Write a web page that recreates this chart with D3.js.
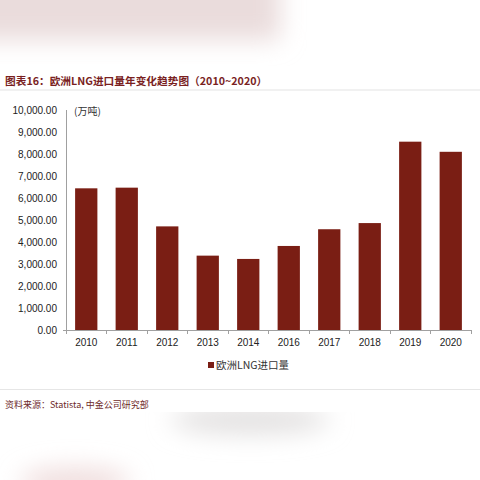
<!DOCTYPE html>
<html>
<head>
<meta charset="utf-8">
<script src="https://cdn.jsdelivr.net/npm/d3@7"></script>
<style>
  html, body { margin: 0; padding: 0; background: #fff; }
  svg { display: block; }
</style>
</head>
<body>
<svg id="chart" width="480" height="480"></svg>
<script>
// European LNG imports by year (unit: 10k tonnes)
const years = ["2010", "2011", "2012", "2013", "2014", "2016", "2017", "2018", "2019", "2020"];
const imports = [6440, 6470, 4710, 3380, 3230, 3820, 4580, 4860, 8560, 8100];
const yTicks = [0, 1000, 2000, 3000, 4000, 5000, 6000, 7000, 8000, 9000, 10000];

const titleText = "图表16：欧洲LNG进口量年变化趋势图（2010~2020）";
const unitText = "(万吨)";
const legendText = "欧洲LNG进口量";
const sourceText = "资料来源：Statista, 中金公司研究部";

const barColor = "#7a1e14";
const latin = "'Liberation Sans', Arial, sans-serif";
const cjk = "'Noto Sans CJK SC', 'Liberation Sans', sans-serif";

const svg = d3.select("#chart");

// soft background haze around the page edges
const defs = svg.append("defs");
defs.append("filter").attr("id", "haze").attr("x", "-50%").attr("y", "-50%")
  .attr("width", "200%").attr("height", "200%")
  .append("feGaussianBlur").attr("stdDeviation", 12);
const haze = svg.append("g").attr("filter", "url(#haze)");
haze.append("rect").attr("x", -30).attr("y", -30).attr("width", 310).attr("height", 70).attr("fill", "#eadcdc");
haze.append("ellipse").attr("cx", 250).attr("cy", 420).attr("rx", 80).attr("ry", 14).attr("fill", "#e2e0e0");
haze.append("ellipse").attr("cx", 75).attr("cy", 482).attr("rx", 55).attr("ry", 14).attr("fill", "#efdcdc");
svg.append("rect").attr("x", 0).attr("y", 66).attr("width", 480).attr("height", 346).attr("fill", "#fff");

// title
svg.append("text").attr("x", 5).attr("y", 85)
  .attr("font-family", cjk).attr("font-weight", "bold").attr("font-size", 10.7)
  .attr("fill", "#7a1f1f").text(titleText);
svg.append("line").attr("x1", 0).attr("x2", 480).attr("y1", 90).attr("y2", 90)
  .attr("stroke", "#ececec").attr("stroke-width", 1.5);

// scales
const x = d3.scaleBand().domain(years).range([66, 471]).paddingInner(0.45).paddingOuter(0.225);
const y = d3.scaleLinear().domain([0, 10000]).range([330, 110]);

// y axis labels and line
const fmt = d3.format(",.2f");
svg.append("g").selectAll("text").data(yTicks).join("text")
  .attr("x", 57).attr("y", d => y(d)).attr("dy", "0.35em")
  .attr("text-anchor", "end").attr("font-family", latin).attr("font-size", 10)
  .attr("fill", "#222").text(d => fmt(d));
svg.append("line").attr("x1", 66.5).attr("x2", 66.5).attr("y1", y(10000)).attr("y2", y(0))
  .attr("stroke", "#a0a0a0");

svg.append("text").attr("x", 74).attr("y", 111).attr("dy", "0.35em")
  .attr("font-family", cjk).attr("font-size", 10).attr("fill", "#333").text(unitText);

// bars
svg.append("g").selectAll("rect").data(years).join("rect")
  .attr("x", d => x(d)).attr("width", x.bandwidth())
  .attr("y", (d, i) => y(imports[i])).attr("height", (d, i) => y(0) - y(imports[i]))
  .attr("fill", barColor);

// x axis line, boundary ticks and labels
const step = x.step();
svg.append("line").attr("x1", 63).attr("x2", 471).attr("y1", y(0) + 0.5).attr("y2", y(0) + 0.5)
  .attr("stroke", "#a0a0a0");
const bounds = years.map(d => x(d) - step * x.paddingInner() / 2).concat([x.range()[1]]);
svg.append("g").selectAll("line").data(bounds).join("line")
  .attr("x1", d => Math.round(d) + 0.5).attr("x2", d => Math.round(d) + 0.5)
  .attr("y1", y(0)).attr("y2", y(0) + 4).attr("stroke", "#a0a0a0");
svg.append("g").selectAll("text").data(years).join("text")
  .attr("x", d => x(d) + x.bandwidth() / 2).attr("y", 342).attr("dy", "0.35em")
  .attr("text-anchor", "middle").attr("font-family", latin).attr("font-size", 10)
  .attr("fill", "#222").text(d => d);

// legend
svg.append("rect").attr("x", 208).attr("y", 362).attr("width", 6).attr("height", 6).attr("fill", barColor);
svg.append("text").attr("x", 216).attr("y", 365).attr("dy", "0.35em")
  .attr("font-family", cjk).attr("font-size", 10.5).attr("fill", "#333").text(legendText);

// footer
svg.append("line").attr("x1", 0).attr("x2", 480).attr("y1", 389.5).attr("y2", 389.5)
  .attr("stroke", "#e6e6e6");
svg.append("text").attr("x", 5).attr("y", 405).attr("dy", "0.35em")
  .attr("font-family", cjk).attr("font-size", 9).attr("fill", "#6e2a2a").text(sourceText);
</script>
</body>
</html>
